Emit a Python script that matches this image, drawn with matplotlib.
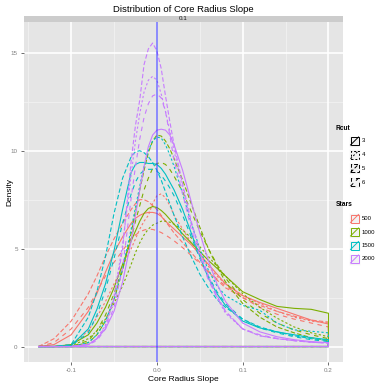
import matplotlib
matplotlib.use("Agg")
import matplotlib.pyplot as plt
from matplotlib.patches import Rectangle
from matplotlib.lines import Line2D

plt.rcParams['font.family'] = ['Liberation Sans Narrow', 'Liberation Sans', 'DejaVu Sans']

# ---- data ----
X = [-0.138, -0.12, -0.10, -0.08, -0.07, -0.06, -0.05, -0.04, -0.03, -0.025, -0.02, -0.015,
     -0.01, -0.005, 0.0, 0.005, 0.01, 0.015, 0.02, 0.03, 0.04, 0.05, 0.06, 0.07, 0.08,
     0.10, 0.12, 0.14, 0.16, 0.18, 0.20]

rcut_levels = ['3', '4', '5', '6']
stars_levels = ['500', '1000', '1500', '2000']

# Stars 500
d_500_r3 = [0, 0.1, 0.6, 1.8, 2.7, 3.8, 4.8, 5.6, 6.3, 6.55, 6.7, 6.8, 6.85, 6.85, 6.8, 6.65, 6.4, 6.2, 6.0, 5.6, 5.2, 4.7, 4.2, 3.7, 3.2, 2.6, 2.25, 1.95, 1.65, 1.35, 1.15]
d_500_r4 = [0, 0, 0.1, 0.8, 1.5, 2.3, 3.2, 4.1, 5.0, 5.5, 6.0, 6.4, 6.7, 7.3, 7.7, 7.8, 7.6, 7.2, 6.7, 6.0, 5.3, 4.7, 4.1, 3.6, 3.2, 2.6, 2.2, 1.8, 1.5, 1.3, 1.2]
d_500_r5 = [0, 0.4, 1.3, 2.7, 3.6, 4.6, 5.5, 6.3, 7.0, 7.3, 7.5, 7.5, 7.4, 7.2, 7.0, 6.7, 6.4, 6.1, 5.8, 5.3, 4.8, 4.3, 3.8, 3.4, 3.0, 2.5, 2.1, 1.8, 1.55, 1.35, 1.25]
d_500_r6 = [0, 0.2, 0.9, 2.0, 2.8, 3.6, 4.3, 4.9, 5.5, 5.7, 5.85, 5.95, 6.0, 5.98, 5.92, 5.82, 5.7, 5.55, 5.4, 5.05, 4.65, 4.25, 3.85, 3.45, 3.1, 2.5, 2.0, 1.65, 1.4, 1.2, 1.0]
# Stars 1000
d_1000_r3 = [0, 0, 0.1, 0.6, 1.2, 2.0, 3.0, 4.2, 5.4, 5.9, 6.4, 6.8, 7.05, 7.15, 7.1, 6.95, 6.75, 6.5, 6.25, 5.75, 5.3, 4.85, 4.4, 4.0, 3.6, 2.8, 2.4, 2.05, 1.95, 1.9, 1.7]
d_1000_r4 = [0, 0, 0.05, 0.4, 0.8, 1.4, 2.2, 3.1, 4.2, 4.8, 5.3, 5.7, 6.0, 6.2, 6.3, 6.4, 6.4, 6.35, 6.25, 5.95, 5.55, 5.1, 4.6, 4.1, 3.6, 2.7, 2.0, 1.45, 1.0, 0.7, 0.5]
d_1000_r5 = [0, 0, 0, 0.2, 0.6, 1.3, 2.4, 3.9, 5.8, 6.9, 8.0, 9.0, 9.9, 10.5, 10.8, 10.75, 10.5, 10.1, 9.6, 8.5, 7.3, 6.1, 5.0, 4.1, 3.3, 2.2, 1.5, 1.0, 0.7, 0.45, 0.3]
d_1000_r6 = [0, 0, 0, 0.3, 0.8, 1.6, 2.7, 4.0, 5.5, 6.4, 7.2, 8.0, 8.6, 9.1, 9.35, 9.4, 9.3, 9.05, 8.7, 7.9, 6.9, 5.9, 5.0, 4.2, 3.5, 2.4, 1.7, 1.2, 0.85, 0.6, 0.4]
# Stars 1500
d_1500_r3 = [0, 0, 0.05, 0.9, 1.9, 3.2, 4.9, 7.0, 8.9, 9.3, 9.4, 9.4, 9.35, 9.35, 9.3, 9.1, 8.8, 8.4, 8.0, 7.0, 5.8, 4.6, 3.5, 2.7, 2.1, 1.3, 0.95, 0.75, 0.6, 0.45, 0.35]
d_1500_r4 = [0, 0, 0, 0.2, 0.6, 1.3, 2.4, 4.0, 6.0, 7.1, 8.2, 9.2, 10.0, 10.5, 10.7, 10.65, 10.3, 9.8, 9.2, 7.8, 6.3, 5.0, 3.9, 3.1, 2.6, 2.1, 1.85, 1.2, 0.85, 0.78, 0.7]
d_1500_r5 = [0, 0, 0.1, 1.5, 2.8, 4.6, 6.8, 8.6, 9.7, 9.95, 10.0, 9.9, 9.7, 9.4, 9.0, 8.5, 7.9, 7.3, 6.7, 5.6, 4.6, 3.7, 3.0, 2.4, 2.0, 1.4, 1.0, 0.75, 0.55, 0.4, 0.3]
d_1500_r6 = [0, 0, 0.05, 0.7, 1.6, 2.9, 4.5, 6.3, 7.8, 8.4, 8.8, 9.0, 9.05, 9.05, 8.95, 8.75, 8.45, 8.1, 7.7, 6.7, 5.6, 4.5, 3.6, 2.8, 2.2, 1.4, 0.95, 0.7, 0.5, 0.35, 0.25]
# Stars 2000
d_2000_r3 = [0, 0, 0, 0.1, 0.4, 0.9, 1.8, 3.3, 5.4, 6.7, 8.0, 9.2, 10.2, 10.8, 11.05, 11.1, 11.05, 10.8, 10.3, 9.0, 7.4, 5.8, 4.4, 3.2, 2.3, 1.2, 0.75, 0.5, 0.35, 0.25, 0.2]
d_2000_r4 = [0, 0, 0, 0.1, 0.4, 1.1, 2.6, 5.2, 8.8, 10.5, 11.9, 13.0, 13.6, 13.8, 13.6, 12.9, 12.0, 11.0, 10.0, 8.1, 6.3, 4.8, 3.5, 2.5, 1.7, 0.9, 0.55, 0.4, 0.3, 0.22, 0.18]
d_2000_r5 = [0, 0, 0, 0.1, 0.4, 1.0, 2.4, 5.0, 9.5, 11.3, 12.6, 14.4, 15.2, 15.5, 15.1, 14.2, 12.8, 11.5, 10.3, 8.3, 6.4, 4.9, 3.6, 2.6, 1.8, 0.9, 0.55, 0.4, 0.3, 0.22, 0.18]
d_2000_r6 = [0, 0, 0, 0.1, 0.3, 0.9, 2.0, 4.0, 7.6, 9.2, 10.6, 11.7, 12.4, 12.8, 12.9, 12.7, 12.0, 10.8, 9.5, 7.8, 6.0, 4.6, 3.4, 2.5, 1.8, 0.9, 0.6, 0.42, 0.3, 0.22, 0.18]

curves = {
    '500': [d_500_r3, d_500_r4, d_500_r5, d_500_r6],
    '1000': [d_1000_r3, d_1000_r4, d_1000_r5, d_1000_r6],
    '1500': [d_1500_r3, d_1500_r4, d_1500_r5, d_1500_r6],
    '2000': [d_2000_r3, d_2000_r4, d_2000_r5, d_2000_r6],
}

x_ticks = [-0.1, 0.0, 0.1, 0.2]
x_tick_labels = ['-0.1', '0.0', '0.1', '0.2']
y_ticks = [0, 5, 10, 15]
vline_x = 0.0

# ---- styles ----
colors = {'500': '#F8766D', '1000': '#7CAE00', '1500': '#00BFC4', '2000': '#C77CFF'}
dash = {'3': None, '4': (0, (2, 2)), '5': (0, (4, 2)), '6': (0, (4, 4))}
LW = 0.8

W, H = 375, 384
fig = plt.figure(figsize=(W / 100, H / 100), dpi=100)
fig.patch.set_facecolor('white')

def fx(px):
    return px / W

def fy(py):
    return 1 - py / H

ax = fig.add_axes([fx(24), fy(362), (343 - 24) / W, (362 - 21.5) / H])
ax.set_facecolor('#E5E5E5')
for s in ax.spines.values():
    s.set_visible(False)

ax.set_xlim(-0.155, 0.217)
ax.set_ylim(-0.79, 16.6)

# grid
for v in [-0.15, -0.05, 0.05, 0.15]:
    ax.axvline(v, color='#F2F2F2', lw=0.6, zorder=0)
for v in [2.5, 7.5, 12.5]:
    ax.axhline(v, color='#F2F2F2', lw=0.6, zorder=0)
for v in x_ticks:
    ax.axvline(v, color='white', lw=1.2, zorder=0.5)
for v in y_ticks:
    ax.axhline(v, color='white', lw=1.2, zorder=0.5)

# curves (closed polygons like geom_density outline)
for st in stars_levels:
    for i, rc in enumerate(rcut_levels):
        ys = curves[st][i]
        xs = list(X) + [X[-1], X[0]]
        yy = list(ys) + [0, 0]
        ls = '-' if dash[rc] is None else dash[rc]
        ax.plot(xs, yy, color=colors[st], lw=LW, linestyle=ls, zorder=2,
                solid_joinstyle='round')

ax.axvline(vline_x, color=(0.25, 0.25, 1.0, 0.6), lw=1.4, zorder=3)

ax.set_xticks(x_ticks)
ax.set_xticklabels(x_tick_labels)
ax.set_yticks(y_ticks)
ax.tick_params(axis='both', length=2.5, width=0.6, color='#555555',
               labelcolor='#7F7F7F', labelsize=4.5, pad=2)
ax.set_xlabel('Core Radius Slope', fontsize=6, labelpad=2)
ax.set_ylabel('Density', fontsize=6, va='center')
ax.yaxis.set_label_coords(-0.045, 0.5)

# strip
fig.add_artist(Rectangle((fx(24), fy(21.5)), (343 - 24) / W, 6 / H,
                         transform=fig.transFigure, facecolor='#CCCCCC', edgecolor='none'))
fig.text(fx(183.5), fy(18.5), '0.1', fontsize=4.5, ha='center', va='center', color='#1A1A1A')

# title
fig.text(fx(183.5), fy(9.5), 'Distribution of Core Radius Slope', fontsize=6.8,
         ha='center', va='center', color='black')

# legends
def key(px_left, py_center, color, ls):
    w, h = 11, 11
    fig.add_artist(Rectangle((fx(px_left), fy(py_center + h / 2)), w / W, h / H,
                             transform=fig.transFigure, facecolor='#F2F2F2',
                             edgecolor='white', lw=0.5))
    l = '-' if ls is None else ls
    iw, ih = 8, 8
    x0, y0 = px_left + (w - iw) / 2, py_center + ih / 2
    fig.add_artist(Rectangle((fx(x0), fy(y0)), iw / W, ih / H,
                             transform=fig.transFigure, facecolor='none',
                             edgecolor=color, lw=0.7, linestyle=l))
    fig.add_artist(Line2D([fx(x0), fx(x0 + iw)], [fy(y0), fy(y0 - ih)],
                          transform=fig.transFigure, color=color, lw=0.7, linestyle=l))

fig.text(fx(336), fy(129), 'Rcut', fontsize=4.8, fontweight='bold', ha='left', va='center')
for i, rc in enumerate(rcut_levels):
    cy = 141 + 13.7 * i
    key(349, cy, 'black', dash[rc])
    fig.text(fx(361.5), fy(cy), rc, fontsize=4.3, ha='left', va='center')

fig.text(fx(336), fy(205), 'Stars', fontsize=4.8, fontweight='bold', ha='left', va='center')
for i, st in enumerate(stars_levels):
    cy = 218.5 + 13.5 * i
    key(349, cy, colors[st], None)
    fig.text(fx(361.5), fy(cy), st, fontsize=4.3, ha='left', va='center')

fig.savefig('out.png', dpi=100)
